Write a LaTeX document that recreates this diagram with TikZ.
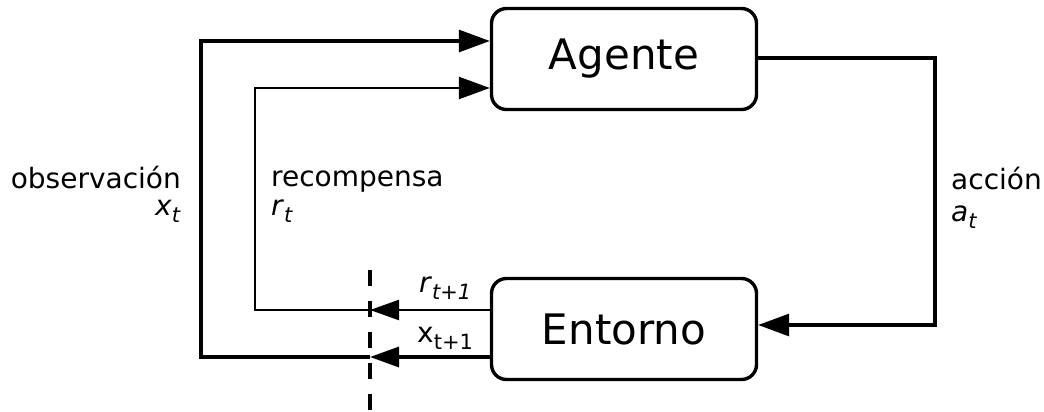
\documentclass[tikz,border=0pt]{standalone}
\usepackage{fontspec}
\setmainfont{DejaVu Sans}
\usetikzlibrary{arrows.meta}
\newcommand{\sbs}[1]{\raisebox{-0.28em}{\fontsize{21}{21}\selectfont #1}}
\begin{document}
\begin{tikzpicture}[x=1pt,y=-1pt,
  box/.style={draw, line width=3.4pt, rounded corners=15pt, minimum width=265pt, minimum height=101pt, inner sep=0pt, font=\fontsize{42}{50}\selectfont},
  lbl/.style={inner sep=0pt, font=\fontsize{28}{32}\selectfont},
  tipA/.style={-{Triangle[length=31pt,width=22pt]}},
  tipB/.style={-{Triangle[length=29pt,width=20pt]}}]
\useasboundingbox (0,0) rectangle (1044,412);
% boxes
\node[box] (ag) at (624,59) {Agente};
\node[box] (en) at (624,329) {Entorno};
% coordinates
\coordinate (ar) at (935,58);
\coordinate (br) at (935,325);
\coordinate (o1) at (201,357);
\coordinate (o2) at (201,41);
\coordinate (r1) at (255,310);
\coordinate (r2) at (255,88);
\coordinate (mo) at (370,357);
\coordinate (mr) at (370,310);
% action
\draw[line width=3.1pt, tipA] (ag.east |- ar) -- (ar) -- (br) -- (en.east |- br);
% observation
\draw[line width=3.2pt, tipB] (en.west |- mo) -- (mo);
\draw[line width=3.2pt, tipA] (mo) -- (o1) -- (o2) -- (ag.west |- o2);
% reward
\draw[line width=2.4pt, tipB] (en.west |- mr) -- (mr);
\draw[line width=2.4pt, tipA] (mr) -- (r1) -- (r2) -- (ag.west |- r2);
% dashed
\coordinate (d1) at (370,270);
\coordinate (d2) at (370,412);
\draw[line width=3.1pt, dash pattern=on 16pt off 15pt] (d1) -- (d2);
% labels
\node[lbl, anchor=base east] (lo) at (181,188) {observación};
\node[lbl, anchor=base east] (lx) at (181,215) {\textit{x}\sbs{\textit{t}}};
\node[lbl, anchor=base west] (lr) at (271,186) {recompensa};
\node[lbl, anchor=base west] (lrt) at (271,215) {\textit{r}\sbs{\textit{t}}};
\node[lbl, anchor=base west] (la) at (951,189) {acción};
\node[lbl, anchor=base west] (lat) at (951,221) {\textit{a}\sbs{\textit{t}}};
\node[lbl, anchor=base west] (lr1) at (419,292) {\textit{r}\sbs{\textit{t+1}}};
\node[lbl, anchor=base west] (lx1) at (417,342) {x\sbs{t+1}};
\end{tikzpicture}
\end{document}
